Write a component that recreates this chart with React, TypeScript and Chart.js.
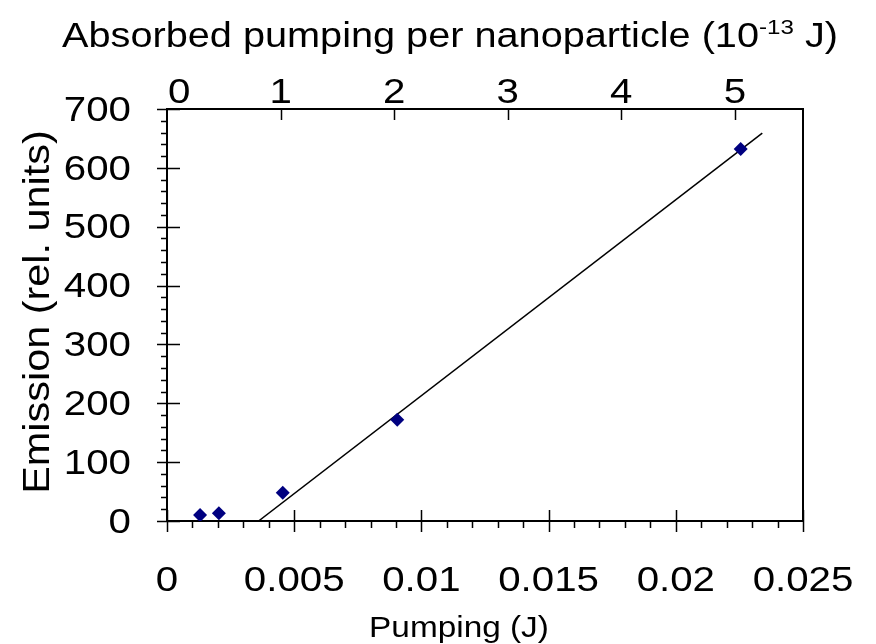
import { useEffect, useRef } from "react";
import { Chart, registerables } from "chart.js";

Chart.register(...registerables);

// ---- data ----
const pumpingJ = [0.0013, 0.00204, 0.00455, 0.00905, 0.02255];
const emission = [10, 13, 48, 172, 632];
const fitPumpingJ = [0.0036, 0.0234];
const fitEmission = [0, 659];

// ---- ticks ----
const xTickValues = [0, 0.005, 0.01, 0.015, 0.02, 0.025];
const xTickLabels = ["0", "0.005", "0.01", "0.015", "0.02", "0.025"];
const yTickValues = [0, 100, 200, 300, 400, 500, 600, 700];
const yTickLabels = ["0", "100", "200", "300", "400", "500", "600", "700"];
const topTickValues = [0, 1, 2, 3, 4, 5];
const topTickLabels = ["0", "1", "2", "3", "4", "5"];
const topAxisMax = 5.6;
const xMinorStep = 0.001;
const yMinorStep = 20;

const titleTop = "Absorbed pumping per nanoparticle (10";
const titleTopSup = "-13";
const titleTopEnd = " J)";
const titleX = "Pumping (J)";
const titleY = "Emission (rel. units)";

const FONT = '"Liberation Sans", Arial, sans-serif';
const STRETCH = 1.15; // glyph widening along the baseline
const TICK_SIZE = 35;
const TITLE_SIZE = 34.5;
const XTITLE_SIZE = 29;
const YTITLE_SIZE = 36;

function drawText(
  ctx: CanvasRenderingContext2D,
  text: string,
  x: number,
  y: number,
  size: number,
  align: CanvasTextAlign,
  baseline: CanvasTextBaseline
) {
  ctx.save();
  ctx.translate(x, y);
  ctx.scale(STRETCH, 1);
  ctx.font = `${size}px ${FONT}`;
  ctx.textAlign = align;
  ctx.textBaseline = baseline;
  ctx.fillText(text, 0, 0);
  ctx.restore();
}

const axisDecor = {
  id: "axisDecor",
  afterDraw(chart: any) {
    const ctx = chart.ctx as CanvasRenderingContext2D;
    const x = chart.scales.x;
    const y = chart.scales.y;
    const x2 = chart.scales.x2;
    const a = chart.chartArea;
    ctx.save();
    ctx.strokeStyle = "#000";
    ctx.lineWidth = 1.5;
    ctx.beginPath();
    for (const v of yTickValues) {
      const py = Math.round(y.getPixelForValue(v)) + 0.5;
      ctx.moveTo(a.left - 10, py);
      ctx.lineTo(a.left + 13, py);
    }
    for (let i = 0; i <= 35; i++) {
      const py = Math.round(y.getPixelForValue(i * yMinorStep)) + 0.5;
      ctx.moveTo(a.left - 6, py);
      ctx.lineTo(a.left, py);
    }
    for (const v of xTickValues) {
      const px = Math.round(x.getPixelForValue(v)) + 0.5;
      ctx.moveTo(px, a.bottom - 11);
      ctx.lineTo(px, a.bottom + 11);
    }
    for (let i = 0; i <= 25; i++) {
      const px = Math.round(x.getPixelForValue(i * xMinorStep)) + 0.5;
      ctx.moveTo(px, a.bottom);
      ctx.lineTo(px, a.bottom + 7);
    }
    for (const v of topTickValues) {
      if (v === 0) continue;
      const px = Math.round(x2.getPixelForValue(v)) + 0.5;
      ctx.moveTo(px, a.top);
      ctx.lineTo(px, a.top + 11);
    }
    ctx.stroke();

    ctx.fillStyle = "#000";
    // tick labels
    yTickValues.forEach((v, i) => {
      drawText(ctx, yTickLabels[i], 131, y.getPixelForValue(v) + 2, TICK_SIZE, "right", "middle");
    });
    xTickValues.forEach((v, i) => {
      drawText(ctx, xTickLabels[i], x.getPixelForValue(v), 591, TICK_SIZE, "center", "alphabetic");
    });
    topTickValues.forEach((v, i) => {
      const px = x2.getPixelForValue(v);
      if (v === 0) drawText(ctx, topTickLabels[i], px + 1, 103, TICK_SIZE, "left", "alphabetic");
      else drawText(ctx, topTickLabels[i], px, 103, TICK_SIZE, "center", "alphabetic");
    });

    // top title with superscript
    const supSize = Math.round(TITLE_SIZE * 0.62);
    ctx.font = `${TITLE_SIZE}px ${FONT}`;
    const w1 = ctx.measureText(titleTop).width * STRETCH;
    const w3 = ctx.measureText(titleTopEnd).width * STRETCH;
    ctx.font = `${supSize}px ${FONT}`;
    const w2 = ctx.measureText(titleTopSup).width * STRETCH;
    let sx = 450 - (w1 + w2 + w3) / 2;
    const tb = 47;
    drawText(ctx, titleTop, sx, tb, TITLE_SIZE, "left", "alphabetic");
    sx += w1;
    drawText(ctx, titleTopSup, sx, tb - TITLE_SIZE * 0.37, supSize, "left", "alphabetic");
    sx += w2;
    drawText(ctx, titleTopEnd, sx, tb, TITLE_SIZE, "left", "alphabetic");

    // x title
    drawText(ctx, titleX, 459, 637, XTITLE_SIZE, "center", "alphabetic");

    // y title (rotated, widened along its own baseline)
    ctx.save();
    ctx.translate(39, 312);
    ctx.rotate(-Math.PI / 2);
    drawText(ctx, titleY, 0, 0, YTITLE_SIZE, "center", "middle");
    ctx.restore();

    ctx.restore();
  },
};

export default function App() {
  const ref = useRef<HTMLCanvasElement | null>(null);
  useEffect(() => {
    if (!ref.current) return;
    const chart = new Chart(ref.current, {
      type: "scatter",
      data: {
        datasets: [
          {
            label: "Emission",
            data: pumpingJ.map((p, i) => ({ x: p, y: emission[i] })),
            pointStyle: "rectRot",
            pointRadius: 7,
            backgroundColor: "#000080",
            borderColor: "#000080",
            borderWidth: 0,
            xAxisID: "x",
            yAxisID: "y",
          },
          {
            label: "Fit",
            type: "line",
            data: fitPumpingJ.map((p, i) => ({ x: p, y: fitEmission[i] })),
            borderColor: "#000",
            borderWidth: 1.5,
            pointRadius: 0,
            showLine: true,
            fill: false,
            xAxisID: "x",
            yAxisID: "y",
          } as any,
        ],
      },
      options: {
        responsive: false,
        animation: false,
        layout: { padding: 0 },
        plugins: { legend: { display: false }, tooltip: { enabled: false }, title: { display: false } },
        scales: {
          x: {
            type: "linear",
            position: "bottom",
            min: 0,
            max: 0.025,
            grid: { display: false },
            border: { display: true, color: "#000", width: 2 },
            ticks: { display: false },
            afterFit: (s: any) => {
              s.height = 123;
            },
          },
          x2: {
            type: "linear",
            position: "top",
            min: 0,
            max: topAxisMax,
            grid: { display: false },
            border: { display: true, color: "#000", width: 2 },
            ticks: { display: false },
            afterFit: (s: any) => {
              s.height = 109;
            },
          },
          y: {
            type: "linear",
            position: "left",
            min: 0,
            max: 700,
            grid: { display: false },
            border: { display: true, color: "#000", width: 2 },
            ticks: { display: false },
            afterFit: (s: any) => {
              s.width = 167;
            },
          },
          y2: {
            type: "linear",
            position: "right",
            min: 0,
            max: 700,
            grid: { display: false },
            border: { display: true, color: "#000", width: 2 },
            ticks: { display: false },
            afterFit: (s: any) => {
              s.width = 73;
            },
          },
        },
      },
      plugins: [axisDecor],
    });
    return () => chart.destroy();
  }, []);
  return (
    <div style={{ position: "fixed", left: 0, top: 0, width: 876, height: 644, background: "#fff" }}>
      <canvas ref={ref} width={876} height={644} style={{ display: "block" }} />
    </div>
  );
}
